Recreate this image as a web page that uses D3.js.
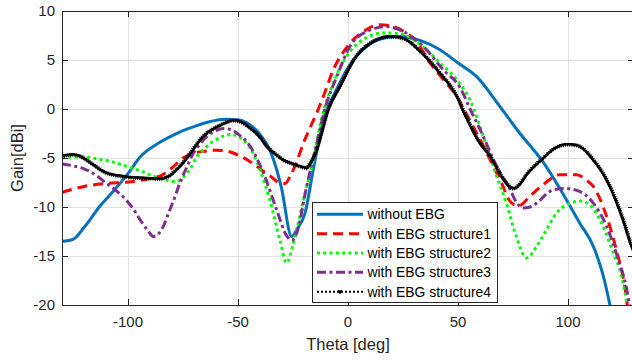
<!DOCTYPE html>
<html><head><meta charset="utf-8">
<script src="https://cdn.jsdelivr.net/npm/d3@7"></script>
<style>body{margin:0;background:#fff}svg{display:block;font-family:"Liberation Sans",Arial,sans-serif}</style>
</head><body><svg id="c" width="632" height="360"></svg>
<script>
const xTicks = [-100, -50, 0, 50, 100];
const yTicks = [-20, -15, -10, -5, 0, 5, 10];
const seriesNames = ["without EBG", "with EBG structure1", "with EBG structure2", "with EBG structure3", "with EBG structure4"];

const thetaBlue = [-130,-125,-120,-112.7,-106.7,-100,-94.5,-85.5,-77,-70,-63,-55,-50,-46,-40,-35.5,-32.4,-30.3,-25.6,-23.3,-19.5,-15.8,-10.5,-6.7,0,8.5,17.6,23.6,32.7,41.8,50,58.5,69,78,88,99.4,105.5,111.5,116,120];
const gainBlue  = [-13.5,-13.3,-12.1,-9.9,-8.4,-6.6,-4.9,-3.4,-2.4,-1.8,-1.3,-1.05,-1.1,-1.4,-2.6,-4.2,-6.2,-8.0,-13.0,-12.3,-10.6,-6.2,-0.6,1.3,4.2,6.4,7.3,7.4,7.0,6.05,4.7,3.3,0.27,-2.45,-5.2,-9.3,-11.7,-14.0,-17.0,-21.0];

const thetaRed = [-130,-120,-110,-100,-90,-85,-80,-75,-70,-65,-60,-55,-50,-45,-40,-35,-31,-28.5,-26.4,-23,-20.3,-17,-14.2,-10,-6.7,-3,0.9,7,14.5,22,28,31,37.3,43.3,49.4,55,60,65.3,69.8,73.6,77.4,82.7,88.8,96.4,104,108,111.5,117.6,122,126,127.5];
const gainRed  = [-8.5,-7.9,-7.6,-7.45,-7.1,-6.8,-6.0,-5.0,-4.5,-4.3,-4.2,-4.3,-4.7,-5.3,-6.1,-6.9,-7.55,-7.6,-6.9,-5.2,-3.5,-1.8,-0.4,2.0,4.0,5.5,6.7,7.9,8.6,8.3,7.5,6.9,4.7,3.0,1.3,-1.0,-3.1,-5.5,-7.55,-9.4,-9.9,-8.9,-7.7,-6.7,-6.7,-7.2,-7.9,-11.0,-14.4,-18.4,-21.0];

const thetaGreen = [-130,-125,-120,-112.7,-108,-100,-94.5,-89,-84,-78,-75,-72,-68.8,-65,-61.2,-57,-53.6,-50,-46,-43,-40,-35.5,-31,-27.9,-24.8,-20.3,-15.8,-12,-6.7,-0.6,7,16,23.6,31,41.8,49.4,55.5,63,67.6,72,76,81.2,85.8,90.3,94.8,99.4,105.5,110,116,120.6,124.4,126.7,127.5];
const gainGreen  = [-5.0,-4.9,-4.9,-5.15,-5.35,-5.9,-6.3,-6.8,-7.2,-7.4,-7.0,-6.2,-4.9,-4.0,-3.3,-2.8,-2.6,-2.8,-3.5,-4.6,-6.2,-9.3,-13.3,-15.7,-13.7,-9.3,-5.2,-1.0,2.65,5.4,7.1,7.75,7.7,6.9,4.7,3.0,0.9,-3.8,-6.9,-9.6,-12.65,-15.2,-14.0,-12.3,-10.6,-9.8,-9.4,-9.8,-12.0,-14.7,-17.1,-19.8,-21.0];

const thetaPurple = [-130,-125,-120,-115,-110,-105,-101,-97,-94.5,-91,-88.5,-86,-84,-81,-79.4,-76.4,-73,-70.3,-67,-64.2,-60,-56.7,-53,-50.6,-44.5,-38.5,-32.4,-28,-25.5,-23.3,-18.8,-14.2,-10.5,-5.1,0.9,8.5,17.6,25.2,34.2,43.3,50.9,55.5,61.5,67.6,73.6,76.5,79.7,82.7,85.8,91.8,97.9,104,111.5,117.6,122.9,126.7,128,129];
const gainPurple  = [-5.6,-5.8,-6.1,-6.7,-7.55,-8.4,-9.25,-10.4,-11.3,-12.4,-13.0,-12.7,-12.0,-10.3,-9.4,-7.55,-5.8,-4.5,-3.5,-2.8,-2.2,-2.0,-2.1,-2.45,-3.8,-6.5,-10.3,-12.9,-13.4,-12.65,-7.9,-3.5,0.0,3.3,6.4,7.9,8.4,7.9,6.4,4.0,2.2,0.0,-2.8,-5.9,-8.2,-9.5,-10.1,-10.0,-9.6,-8.4,-8.1,-8.3,-9.6,-12.0,-15.4,-18.4,-20.0,-21.0];

const thetaBlack = [-130,-125,-121,-117,-110,-101,-91.5,-85.5,-81,-79.4,-75,-70,-65.8,-61,-56.7,-52,-48,-44.5,-40,-37,-33,-29.4,-25,-21.8,-18.8,-16.5,-14.2,-12,-9.7,-3.6,3.9,11.5,19,25.2,32.7,41.8,49.4,52.4,60,64.5,67.6,71,75.2,78,81.2,88.8,94,100,104,111.5,119,125,128.9,130];
const gainBlack  = [-4.8,-4.65,-4.9,-5.5,-6.5,-6.9,-7.05,-7.1,-6.8,-6.5,-5.5,-4.0,-2.8,-2.0,-1.5,-1.15,-1.4,-1.95,-2.9,-3.8,-4.6,-5.2,-5.6,-5.85,-6.0,-5.3,-4.2,-2.5,-0.6,2.3,5.4,6.9,7.4,7.2,5.9,3.65,1.3,-0.2,-3.5,-4.8,-6.0,-7.3,-8.1,-7.7,-6.7,-5.0,-4.0,-3.6,-3.7,-5.2,-7.9,-11.3,-14.0,-14.6];

const W = 632, H = 360;
const L = 62, T = 11, R = 634, B = 305;
const svg = d3.select("#c");
const x = d3.scaleLinear().domain([-130, 130]).range([L, R]);
const y = d3.scaleLinear().domain([-20, 10]).range([B, T]);
const axisColor = "#262626";

// grid
const g = svg.append("g");
g.selectAll("line.vx").data(xTicks).enter().append("line")
  .attr("x1", d => Math.round(x(d)) + 0.5).attr("x2", d => Math.round(x(d)) + 0.5)
  .attr("y1", T).attr("y2", B).attr("stroke", "#e1e1e1").attr("stroke-width", 1);
g.selectAll("line.hy").data(yTicks).enter().append("line")
  .attr("y1", d => Math.round(y(d)) + 0.5).attr("y2", d => Math.round(y(d)) + 0.5)
  .attr("x1", L).attr("x2", R).attr("stroke", "#e1e1e1").attr("stroke-width", 1);

// clip
svg.append("clipPath").attr("id", "clip").append("rect")
  .attr("x", L).attr("y", T).attr("width", R - L).attr("height", B - T);
const plot = svg.append("g").attr("clip-path", "url(#clip)");

const line = d3.line().x(d => x(d[0])).y(d => y(d[1])).curve(d3.curveMonotoneX);
const zip = (a, b) => a.map((v, i) => [v, b[i]]);

const series = [
  {data: zip(thetaBlue, gainBlue), color: "#0072BD", width: 3, dash: null},
  {data: zip(thetaRed, gainRed), color: "#FF0000", width: 3, dash: "10,6"},
  {data: zip(thetaGreen, gainGreen), color: "#00FF00", width: 3, dash: "3,3.3"},
  {data: zip(thetaPurple, gainPurple), color: "#7E2F8E", width: 3, dash: "9,3.5,3,3.5"},
  {data: zip(thetaBlack, gainBlack), color: "#000000", width: 2, dash: "2,2", markers: true}
];

series.forEach(s => {
  const p = plot.append("path").datum(s.data).attr("d", line)
    .attr("fill", "none").attr("stroke", s.color).attr("stroke-width", s.width)
    .attr("stroke-dasharray", s.dash);
  if (s.markers) {
    const node = p.node();
    const len = node.getTotalLength();
    const pts = [];
    for (let l = 0; l <= len; l += 2.2) pts.push(node.getPointAtLength(l));
    plot.selectAll("path.tri").data(pts).enter().append("path")
      .attr("d", d3.symbol().type(d3.symbolTriangle).size(9))
      .attr("transform", d => `translate(${d.x},${d.y}) rotate(180)`)
      .attr("fill", "#000");
  }
});

// axes box
const ax = svg.append("g").attr("stroke", axisColor).attr("stroke-width", 1).attr("fill", "none");
ax.append("line").attr("x1", L + 0.5).attr("x2", L + 0.5).attr("y1", T).attr("y2", B + 0.5);
ax.append("line").attr("x1", L).attr("x2", R).attr("y1", B + 0.5).attr("y2", B + 0.5);
ax.append("line").attr("x1", L).attr("x2", R).attr("y1", T + 0.5).attr("y2", T + 0.5);
ax.append("line").attr("x1", R - 0.5).attr("x2", R - 0.5).attr("y1", T).attr("y2", B);
const tl = 6;
xTicks.forEach(d => {
  const px = Math.round(x(d)) + 0.5;
  ax.append("line").attr("x1", px).attr("x2", px).attr("y1", B).attr("y2", B - tl);
  ax.append("line").attr("x1", px).attr("x2", px).attr("y1", T).attr("y2", T + tl);
});
yTicks.forEach(d => {
  const py = Math.round(y(d)) + 0.5;
  ax.append("line").attr("x1", L).attr("x2", L + tl).attr("y1", py).attr("y2", py);
  ax.append("line").attr("x1", R).attr("x2", R - tl).attr("y1", py).attr("y2", py);
});

// tick labels
svg.append("g").selectAll("text").data(xTicks).enter().append("text")
  .attr("x", d => x(d)).attr("y", 327).attr("text-anchor", "middle")
  .attr("font-size", 15).attr("fill", axisColor).text(d => d);
svg.append("g").selectAll("text").data(yTicks).enter().append("text")
  .attr("x", 55).attr("y", d => y(d) + 5.3).attr("text-anchor", "end")
  .attr("font-size", 15).attr("fill", axisColor).text(d => d);

// axis labels
svg.append("text").attr("x", x(0)).attr("y", 350).attr("text-anchor", "middle")
  .attr("font-size", 16.5).attr("fill", axisColor).text("Theta [deg]");
svg.append("text").attr("transform", `translate(23,${(T + B) / 2}) rotate(-90)`)
  .attr("text-anchor", "middle").attr("font-size", 16.5).attr("fill", axisColor).text("Gain[dBi]");

// legend
const lg = svg.append("g");
lg.append("rect").attr("x", 312.5).attr("y", 202.5).attr("width", 185).attr("height", 100)
  .attr("fill", "#fff").attr("stroke", axisColor).attr("stroke-width", 1);
series.forEach((s, i) => {
  const ly = 214.3 + i * 19.35;
  lg.append("line").attr("x1", 317).attr("x2", 363).attr("y1", ly).attr("y2", ly)
    .attr("stroke", s.color).attr("stroke-width", s.width).attr("stroke-dasharray", s.dash);
  if (s.markers) {
    lg.append("path").attr("d", d3.symbol().type(d3.symbolTriangle).size(10))
      .attr("transform", `translate(340,${ly}) rotate(180)`).attr("fill", "#000");
  }
  lg.append("text").attr("x", 367.5).attr("y", ly + 5).attr("font-size", 13.9)
    .attr("fill", "#000").text(seriesNames[i]);
});
</script></body></html>
